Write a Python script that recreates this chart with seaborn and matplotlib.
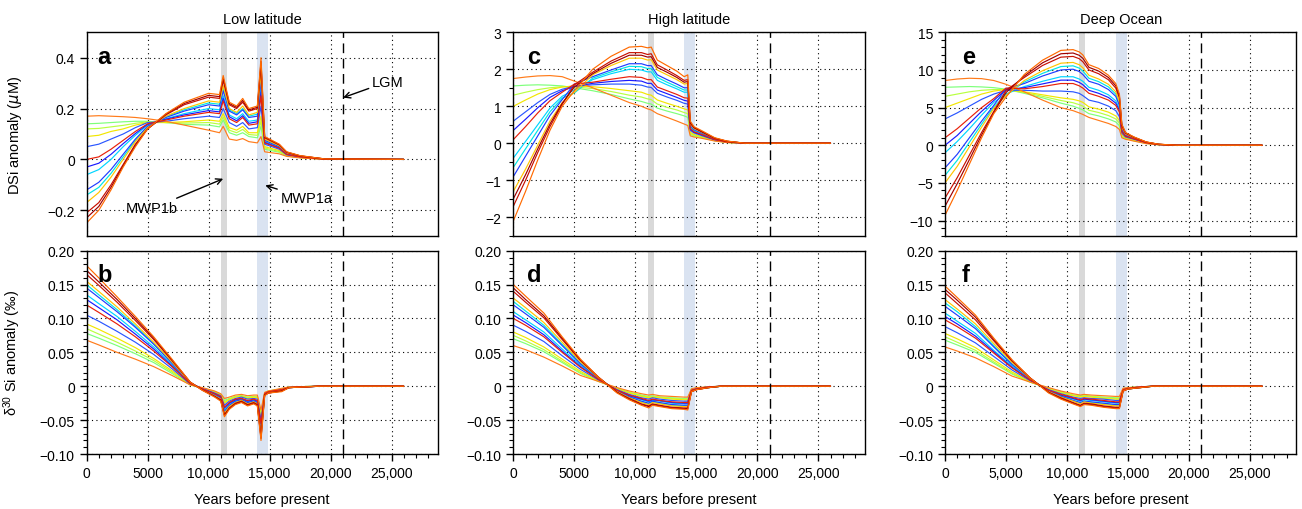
import pandas as pd
import seaborn as sns
import matplotlib.pyplot as plt
from matplotlib.ticker import MultipleLocator, FixedLocator

# ---- data (years before present) ----
YEARS_A = [0, 1000, 2000, 3000, 4000, 5000, 6500, 8000, 10000, 10900, 11200, 11700,
           12300, 12800, 13300, 14000, 14300, 14600, 15800, 16400, 17500, 19500, 26000]
DSI_LOW = [
    [-0.25, -0.20, -0.12, -0.03, 0.05, 0.12, 0.18, 0.225, 0.26, 0.255, 0.33, 0.225, 0.21, 0.24, 0.20, 0.21, 0.40, 0.09, 0.06, 0.03, 0.015, 0.002, 0],
    [-0.21, -0.17, -0.10, -0.02, 0.06, 0.12, 0.175, 0.215, 0.245, 0.24, 0.31, 0.215, 0.20, 0.225, 0.19, 0.20, 0.37, 0.085, 0.057, 0.028, 0.014, 0.002, 0],
    [-0.17, -0.13, -0.07, 0.00, 0.07, 0.125, 0.17, 0.20, 0.23, 0.225, 0.29, 0.20, 0.185, 0.21, 0.175, 0.185, 0.34, 0.08, 0.054, 0.026, 0.013, 0.002, 0],
    [-0.12, -0.09, -0.04, 0.02, 0.08, 0.13, 0.165, 0.19, 0.215, 0.21, 0.27, 0.19, 0.175, 0.195, 0.165, 0.17, 0.31, 0.075, 0.05, 0.024, 0.012, 0.001, 0],
    [-0.06, -0.04, 0.00, 0.05, 0.095, 0.135, 0.16, 0.18, 0.20, 0.195, 0.25, 0.175, 0.16, 0.18, 0.15, 0.155, 0.28, 0.07, 0.047, 0.022, 0.011, 0.001, 0],
    [0.00, 0.01, 0.04, 0.075, 0.11, 0.14, 0.155, 0.17, 0.185, 0.18, 0.23, 0.16, 0.145, 0.165, 0.135, 0.14, 0.25, 0.065, 0.044, 0.02, 0.01, 0.001, 0],
    [0.05, 0.06, 0.08, 0.10, 0.125, 0.145, 0.15, 0.16, 0.17, 0.165, 0.20, 0.145, 0.13, 0.145, 0.12, 0.125, 0.21, 0.06, 0.04, 0.018, 0.009, 0.001, 0],
    [0.09, 0.095, 0.11, 0.12, 0.135, 0.145, 0.145, 0.148, 0.155, 0.15, 0.18, 0.125, 0.115, 0.13, 0.105, 0.105, 0.17, 0.05, 0.035, 0.016, 0.008, 0.001, 0],
    [0.14, 0.142, 0.145, 0.148, 0.15, 0.15, 0.145, 0.138, 0.135, 0.128, 0.155, 0.105, 0.095, 0.105, 0.09, 0.085, 0.13, 0.04, 0.028, 0.014, 0.007, 0.001, 0],
    [0.17, 0.172, 0.17, 0.168, 0.165, 0.16, 0.15, 0.135, 0.115, 0.105, 0.13, 0.08, 0.075, 0.082, 0.07, 0.065, 0.09, 0.03, 0.022, 0.012, 0.006, 0.0, 0],
    [-0.23, -0.185, -0.11, -0.025, 0.055, 0.12, 0.178, 0.22, 0.252, 0.247, 0.32, 0.22, 0.205, 0.232, 0.195, 0.205, 0.385, 0.088, 0.058, 0.029, 0.014, 0.002, 0],
    [-0.14, -0.11, -0.055, 0.01, 0.075, 0.128, 0.168, 0.195, 0.222, 0.217, 0.28, 0.195, 0.18, 0.20, 0.17, 0.178, 0.325, 0.078, 0.052, 0.025, 0.012, 0.001, 0],
    [-0.03, -0.015, 0.02, 0.062, 0.102, 0.138, 0.158, 0.175, 0.192, 0.187, 0.24, 0.168, 0.152, 0.172, 0.142, 0.148, 0.265, 0.067, 0.045, 0.021, 0.01, 0.001, 0],
    [0.12, 0.122, 0.128, 0.134, 0.142, 0.148, 0.145, 0.143, 0.145, 0.139, 0.167, 0.115, 0.105, 0.118, 0.098, 0.095, 0.15, 0.045, 0.031, 0.015, 0.0075, 0.001, 0],
]

YEARS_B = [0, 1000, 2500, 4000, 5500, 7000, 8500, 9500, 10500, 11000, 11300, 11700,
           12200, 12700, 13200, 13700, 14000, 14300, 14600, 14900, 16000, 16600, 19000, 26000]
D30_LOW = [
    [0.178, 0.160, 0.132, 0.103, 0.073, 0.040, 0.006, -0.006, -0.016, -0.022, -0.045, -0.034, -0.027, -0.024, -0.029, -0.026, -0.029, -0.080, -0.014, -0.010, -0.008, -0.002, 0.0, 0.0],
    [0.165, 0.149, 0.124, 0.097, 0.069, 0.038, 0.006, -0.005, -0.015, -0.020, -0.042, -0.032, -0.025, -0.022, -0.027, -0.024, -0.027, -0.075, -0.013, -0.010, -0.007, -0.002, 0.0, 0.0],
    [0.155, 0.140, 0.117, 0.092, 0.065, 0.036, 0.005, -0.005, -0.014, -0.019, -0.040, -0.030, -0.024, -0.021, -0.026, -0.023, -0.026, -0.070, -0.013, -0.009, -0.006, -0.002, 0.0, 0.0],
    [0.145, 0.131, 0.110, 0.087, 0.062, 0.034, 0.005, -0.004, -0.013, -0.018, -0.037, -0.028, -0.022, -0.020, -0.024, -0.022, -0.024, -0.065, -0.012, -0.009, -0.006, -0.002, 0.0, 0.0],
    [0.135, 0.122, 0.103, 0.081, 0.058, 0.032, 0.004, -0.004, -0.012, -0.017, -0.034, -0.026, -0.021, -0.019, -0.023, -0.021, -0.023, -0.060, -0.012, -0.009, -0.006, -0.002, 0.0, 0.0],
    [0.120, 0.109, 0.092, 0.073, 0.052, 0.029, 0.004, -0.004, -0.011, -0.015, -0.031, -0.024, -0.019, -0.018, -0.021, -0.019, -0.021, -0.055, -0.011, -0.008, -0.005, -0.002, 0.0, 0.0],
    [0.105, 0.096, 0.081, 0.065, 0.047, 0.026, 0.003, -0.003, -0.010, -0.014, -0.028, -0.022, -0.018, -0.016, -0.019, -0.018, -0.019, -0.050, -0.011, -0.008, -0.005, -0.001, 0.0, 0.0],
    [0.092, 0.084, 0.071, 0.057, 0.041, 0.023, 0.003, -0.003, -0.009, -0.013, -0.025, -0.020, -0.016, -0.015, -0.018, -0.016, -0.017, -0.045, -0.010, -0.008, -0.004, -0.001, 0.0, 0.0],
    [0.078, 0.071, 0.060, 0.048, 0.035, 0.019, 0.002, -0.003, -0.008, -0.012, -0.021, -0.018, -0.015, -0.014, -0.016, -0.015, -0.015, -0.040, -0.010, -0.007, -0.004, -0.001, 0.0, 0.0],
    [0.068, 0.061, 0.050, 0.040, 0.029, 0.016, 0.002, -0.002, -0.007, -0.011, -0.018, -0.016, -0.013, -0.012, -0.014, -0.013, -0.013, -0.035, -0.009, -0.007, -0.003, -0.001, 0.0, 0.0],
    [0.171, 0.154, 0.128, 0.100, 0.071, 0.039, 0.006, -0.006, -0.015, -0.021, -0.043, -0.033, -0.026, -0.023, -0.028, -0.025, -0.028, -0.077, -0.013, -0.010, -0.007, -0.002, 0.0, 0.0],
    [0.150, 0.135, 0.113, 0.089, 0.063, 0.035, 0.005, -0.004, -0.013, -0.018, -0.038, -0.029, -0.023, -0.020, -0.025, -0.022, -0.025, -0.067, -0.012, -0.009, -0.006, -0.002, 0.0, 0.0],
    [0.128, 0.116, 0.098, 0.077, 0.055, 0.030, 0.004, -0.004, -0.011, -0.016, -0.032, -0.025, -0.020, -0.018, -0.022, -0.020, -0.022, -0.057, -0.011, -0.008, -0.005, -0.002, 0.0, 0.0],
    [0.085, 0.077, 0.065, 0.052, 0.038, 0.021, 0.002, -0.003, -0.008, -0.012, -0.023, -0.019, -0.015, -0.014, -0.017, -0.015, -0.016, -0.042, -0.010, -0.007, -0.004, -0.001, 0.0, 0.0],
]

YEARS_C = [0, 1000, 2000, 3000, 4000, 5000, 6500, 8000, 9500, 10500, 11000, 11300,
           11800, 12600, 13400, 14000, 14300, 14500, 14800, 15500, 16500, 17500, 19000, 26000]
DSI_HIGH = [
    [-2.1, -1.3, -0.45, 0.35, 1.0, 1.42, 2.0, 2.35, 2.6, 2.62, 2.58, 2.6, 2.25, 2.1, 1.95, 1.8, 1.85, 0.6, 0.45, 0.33, 0.15, 0.06, 0.0, 0.0],
    [-1.7, -1.0, -0.25, 0.45, 1.05, 1.58, 1.92, 2.22, 2.45, 2.45, 2.4, 2.42, 2.12, 1.98, 1.83, 1.7, 1.72, 0.57, 0.43, 0.31, 0.14, 0.055, 0.0, 0.0],
    [-1.3, -0.7, -0.05, 0.6, 1.1, 1.38, 1.85, 2.1, 2.3, 2.3, 2.25, 2.26, 1.98, 1.85, 1.72, 1.6, 1.62, 0.52, 0.4, 0.29, 0.13, 0.05, 0.0, 0.0],
    [-0.9, -0.35, 0.2, 0.75, 1.18, 1.6, 1.8, 1.98, 2.15, 2.15, 2.1, 2.1, 1.85, 1.72, 1.6, 1.5, 1.5, 0.48, 0.37, 0.27, 0.12, 0.045, 0.0, 0.0],
    [-0.4, 0.05, 0.5, 0.95, 1.27, 1.44, 1.72, 1.88, 2.0, 1.98, 1.93, 1.93, 1.7, 1.58, 1.47, 1.38, 1.38, 0.44, 0.34, 0.25, 0.11, 0.04, 0.0, 0.0],
    [0.1, 0.45, 0.82, 1.15, 1.38, 1.6, 1.65, 1.73, 1.8, 1.78, 1.72, 1.72, 1.52, 1.42, 1.32, 1.23, 1.22, 0.4, 0.31, 0.23, 0.1, 0.035, 0.0, 0.0],
    [0.6, 0.85, 1.1, 1.32, 1.46, 1.54, 1.58, 1.6, 1.6, 1.57, 1.52, 1.51, 1.35, 1.25, 1.16, 1.08, 1.06, 0.35, 0.28, 0.2, 0.09, 0.03, 0.0, 0.0],
    [1.0, 1.17, 1.33, 1.45, 1.52, 1.55, 1.53, 1.48, 1.42, 1.38, 1.32, 1.3, 1.17, 1.08, 1.0, 0.93, 0.9, 0.3, 0.24, 0.18, 0.08, 0.025, 0.0, 0.0],
    [1.55, 1.57, 1.58, 1.57, 1.55, 1.5, 1.42, 1.32, 1.2, 1.13, 1.08, 1.06, 0.95, 0.87, 0.8, 0.74, 0.7, 0.24, 0.2, 0.15, 0.07, 0.02, 0.0, 0.0],
    [1.75, 1.79, 1.82, 1.83, 1.8, 1.68, 1.5, 1.3, 1.1, 1.0, 0.93, 0.9, 0.8, 0.7, 0.6, 0.52, 0.48, 0.2, 0.17, 0.13, 0.06, 0.02, 0.0, 0.0],
    [-1.5, -0.85, -0.15, 0.52, 1.08, 1.52, 1.88, 2.16, 2.38, 2.38, 2.33, 2.34, 2.05, 1.92, 1.78, 1.65, 1.67, 0.55, 0.42, 0.3, 0.135, 0.052, 0.0, 0.0],
    [-0.65, -0.15, 0.35, 0.85, 1.22, 1.36, 1.76, 1.93, 2.08, 2.07, 2.02, 2.02, 1.78, 1.65, 1.53, 1.44, 1.44, 0.46, 0.35, 0.26, 0.115, 0.042, 0.0, 0.0],
    [0.35, 0.65, 0.96, 1.24, 1.42, 1.53, 1.62, 1.67, 1.7, 1.68, 1.62, 1.62, 1.44, 1.34, 1.24, 1.16, 1.14, 0.38, 0.3, 0.22, 0.095, 0.032, 0.0, 0.0],
    [1.3, 1.38, 1.45, 1.5, 1.53, 1.52, 1.48, 1.4, 1.3, 1.25, 1.2, 1.18, 1.06, 0.97, 0.9, 0.83, 0.8, 0.27, 0.22, 0.16, 0.075, 0.022, 0.0, 0.0],
]

YEARS_D = [0, 1000, 2500, 4000, 5500, 7000, 8500, 9500, 10500, 11100, 11400, 12000,
           13000, 14000, 14300, 14600, 15000, 16000, 17000, 26000]
D30_HIGH = [
    [0.150, 0.133, 0.108, 0.073, 0.040, 0.013, -0.010, -0.020, -0.028, -0.032, -0.028, -0.030, -0.033, -0.034, -0.035, -0.008, -0.005, -0.002, 0.0, 0.0],
    [0.140, 0.124, 0.101, 0.069, 0.038, 0.013, -0.009, -0.018, -0.026, -0.029, -0.026, -0.028, -0.031, -0.032, -0.032, -0.008, -0.005, -0.002, 0.0, 0.0],
    [0.130, 0.116, 0.094, 0.065, 0.036, 0.012, -0.008, -0.017, -0.024, -0.027, -0.024, -0.026, -0.029, -0.030, -0.030, -0.007, -0.005, -0.002, 0.0, 0.0],
    [0.120, 0.107, 0.087, 0.060, 0.033, 0.012, -0.008, -0.016, -0.022, -0.025, -0.022, -0.024, -0.027, -0.028, -0.028, -0.007, -0.004, -0.002, 0.0, 0.0],
    [0.110, 0.098, 0.080, 0.055, 0.031, 0.011, -0.007, -0.015, -0.020, -0.023, -0.021, -0.022, -0.025, -0.026, -0.026, -0.006, -0.004, -0.002, 0.0, 0.0],
    [0.100, 0.090, 0.073, 0.050, 0.028, 0.010, -0.006, -0.013, -0.018, -0.021, -0.019, -0.021, -0.023, -0.024, -0.024, -0.006, -0.004, -0.001, 0.0, 0.0],
    [0.090, 0.081, 0.066, 0.045, 0.025, 0.009, -0.005, -0.012, -0.017, -0.019, -0.017, -0.019, -0.021, -0.022, -0.022, -0.005, -0.003, -0.001, 0.0, 0.0],
    [0.080, 0.072, 0.058, 0.040, 0.022, 0.008, -0.004, -0.010, -0.015, -0.017, -0.016, -0.017, -0.019, -0.020, -0.020, -0.005, -0.003, -0.001, 0.0, 0.0],
    [0.070, 0.063, 0.051, 0.035, 0.019, 0.007, -0.003, -0.009, -0.013, -0.015, -0.014, -0.016, -0.017, -0.018, -0.018, -0.004, -0.003, -0.001, 0.0, 0.0],
    [0.060, 0.054, 0.043, 0.030, 0.016, 0.007, -0.002, -0.007, -0.011, -0.013, -0.012, -0.014, -0.015, -0.016, -0.016, -0.004, -0.002, -0.001, 0.0, 0.0],
    [0.145, 0.128, 0.104, 0.071, 0.039, 0.013, -0.009, -0.019, -0.027, -0.030, -0.027, -0.029, -0.032, -0.033, -0.033, -0.008, -0.005, -0.002, 0.0, 0.0],
    [0.125, 0.111, 0.090, 0.062, 0.034, 0.012, -0.008, -0.016, -0.023, -0.026, -0.023, -0.025, -0.028, -0.029, -0.029, -0.007, -0.004, -0.002, 0.0, 0.0],
    [0.105, 0.094, 0.076, 0.052, 0.029, 0.010, -0.006, -0.014, -0.019, -0.022, -0.020, -0.021, -0.024, -0.025, -0.025, -0.006, -0.004, -0.001, 0.0, 0.0],
    [0.075, 0.067, 0.054, 0.037, 0.020, 0.007, -0.003, -0.009, -0.014, -0.016, -0.015, -0.016, -0.018, -0.019, -0.019, -0.004, -0.003, -0.001, 0.0, 0.0],
]

YEARS_E = YEARS_C
DSI_DEEP = [
    [-9.3, -6.0, -2.5, 1.0, 4.2, 6.4, 9.4, 11.3, 12.6, 12.7, 12.4, 12.0, 10.7, 10.2, 9.3, 8.2, 6.8, 2.8, 1.7, 1.1, 0.45, 0.15, 0.0, 0.0],
    [-7.0, -4.3, -1.3, 1.7, 4.5, 7.3, 9.0, 10.6, 11.7, 11.8, 11.5, 11.1, 10.0, 9.5, 8.7, 7.6, 6.3, 2.6, 1.6, 1.05, 0.42, 0.14, 0.0, 0.0],
    [-5.0, -2.8, -0.2, 2.4, 4.9, 6.6, 8.6, 9.9, 10.9, 11.0, 10.7, 10.3, 9.3, 8.8, 8.1, 7.1, 5.8, 2.4, 1.5, 1.0, 0.4, 0.13, 0.0, 0.0],
    [-3.0, -1.2, 1.0, 3.2, 5.3, 7.5, 8.2, 9.2, 10.0, 10.1, 9.8, 9.4, 8.5, 8.1, 7.4, 6.5, 5.3, 2.2, 1.4, 0.95, 0.38, 0.12, 0.0, 0.0],
    [-1.0, 0.5, 2.2, 4.0, 5.7, 6.8, 7.8, 8.5, 9.1, 9.1, 8.8, 8.5, 7.7, 7.3, 6.7, 5.9, 4.9, 2.0, 1.3, 0.9, 0.36, 0.11, 0.0, 0.0],
    [1.0, 2.2, 3.6, 5.0, 6.2, 7.6, 7.5, 7.8, 8.2, 8.2, 7.9, 7.6, 6.9, 6.5, 6.0, 5.3, 4.4, 1.8, 1.2, 0.85, 0.34, 0.1, 0.0, 0.0],
    [3.5, 4.3, 5.2, 6.1, 6.8, 7.3, 7.3, 7.2, 7.2, 7.1, 6.9, 6.6, 6.0, 5.7, 5.2, 4.6, 3.8, 1.6, 1.1, 0.8, 0.32, 0.1, 0.0, 0.0],
    [5.0, 5.6, 6.2, 6.8, 7.2, 7.4, 7.1, 6.7, 6.3, 6.1, 5.9, 5.7, 5.1, 4.8, 4.4, 3.9, 3.3, 1.4, 1.0, 0.7, 0.3, 0.09, 0.0, 0.0],
    [7.7, 7.75, 7.8, 7.75, 7.65, 7.45, 6.9, 6.3, 5.6, 5.2, 4.9, 4.7, 4.2, 3.9, 3.5, 3.1, 2.6, 1.15, 0.9, 0.6, 0.25, 0.08, 0.0, 0.0],
    [8.6, 8.8, 8.9, 8.85, 8.6, 8.1, 7.1, 6.0, 5.0, 4.6, 4.3, 4.1, 3.7, 3.3, 2.9, 2.5, 2.1, 1.0, 0.8, 0.55, 0.22, 0.07, 0.0, 0.0],
    [-8.1, -5.1, -1.9, 1.35, 4.35, 7.0, 9.2, 10.95, 12.15, 12.25, 11.95, 11.55, 10.35, 9.85, 9.0, 7.9, 6.55, 2.7, 1.65, 1.07, 0.43, 0.14, 0.0, 0.0],
    [-4.0, -2.0, 0.4, 2.8, 5.1, 6.7, 8.4, 9.55, 10.45, 10.55, 10.25, 9.85, 8.9, 8.45, 7.75, 6.8, 5.55, 2.3, 1.45, 0.97, 0.39, 0.12, 0.0, 0.0],
    [0.0, 1.3, 2.9, 4.5, 5.95, 7.4, 7.65, 8.15, 8.65, 8.65, 8.35, 8.05, 7.3, 6.9, 6.35, 5.6, 4.65, 1.9, 1.25, 0.87, 0.35, 0.1, 0.0, 0.0],
    [6.5, 6.8, 7.1, 7.3, 7.4, 7.4, 7.0, 6.5, 5.95, 5.65, 5.4, 5.2, 4.65, 4.35, 3.95, 3.5, 2.95, 1.3, 0.95, 0.65, 0.27, 0.085, 0.0, 0.0],
]

YEARS_F = YEARS_D
D30_DEEP = [
    [0.148, 0.131, 0.105, 0.071, 0.039, 0.012, -0.010, -0.019, -0.026, -0.030, -0.027, -0.028, -0.031, -0.033, -0.033, -0.007, -0.004, -0.002, 0.0, 0.0],
    [0.138, 0.122, 0.098, 0.067, 0.037, 0.012, -0.009, -0.017, -0.024, -0.028, -0.025, -0.026, -0.029, -0.031, -0.031, -0.007, -0.004, -0.002, 0.0, 0.0],
    [0.128, 0.114, 0.092, 0.063, 0.035, 0.011, -0.008, -0.016, -0.022, -0.026, -0.023, -0.025, -0.027, -0.029, -0.029, -0.006, -0.004, -0.002, 0.0, 0.0],
    [0.118, 0.105, 0.085, 0.058, 0.032, 0.011, -0.008, -0.015, -0.021, -0.024, -0.022, -0.023, -0.025, -0.027, -0.027, -0.006, -0.004, -0.002, 0.0, 0.0],
    [0.108, 0.096, 0.078, 0.053, 0.030, 0.010, -0.007, -0.014, -0.019, -0.022, -0.020, -0.021, -0.023, -0.025, -0.025, -0.006, -0.004, -0.001, 0.0, 0.0],
    [0.098, 0.088, 0.071, 0.049, 0.027, 0.009, -0.006, -0.012, -0.017, -0.020, -0.018, -0.019, -0.021, -0.023, -0.023, -0.005, -0.003, -0.001, 0.0, 0.0],
    [0.088, 0.079, 0.064, 0.044, 0.024, 0.008, -0.005, -0.011, -0.016, -0.018, -0.017, -0.018, -0.019, -0.021, -0.021, -0.005, -0.003, -0.001, 0.0, 0.0],
    [0.078, 0.070, 0.057, 0.039, 0.021, 0.007, -0.004, -0.010, -0.014, -0.016, -0.015, -0.016, -0.018, -0.019, -0.019, -0.004, -0.003, -0.001, 0.0, 0.0],
    [0.068, 0.061, 0.050, 0.034, 0.018, 0.006, -0.003, -0.008, -0.013, -0.014, -0.013, -0.015, -0.016, -0.017, -0.017, -0.004, -0.002, -0.001, 0.0, 0.0],
    [0.058, 0.052, 0.042, 0.029, 0.015, 0.006, -0.002, -0.007, -0.011, -0.013, -0.012, -0.013, -0.014, -0.015, -0.015, -0.003, -0.002, -0.001, 0.0, 0.0],
    [0.143, 0.127, 0.102, 0.069, 0.038, 0.012, -0.009, -0.018, -0.025, -0.029, -0.026, -0.027, -0.030, -0.032, -0.032, -0.007, -0.004, -0.002, 0.0, 0.0],
    [0.123, 0.110, 0.088, 0.060, 0.033, 0.011, -0.008, -0.015, -0.021, -0.025, -0.022, -0.024, -0.026, -0.028, -0.028, -0.006, -0.004, -0.002, 0.0, 0.0],
    [0.103, 0.092, 0.074, 0.051, 0.028, 0.009, -0.006, -0.013, -0.018, -0.021, -0.019, -0.020, -0.022, -0.024, -0.024, -0.005, -0.003, -0.001, 0.0, 0.0],
    [0.073, 0.065, 0.053, 0.036, 0.019, 0.006, -0.003, -0.009, -0.013, -0.015, -0.014, -0.015, -0.017, -0.018, -0.018, -0.004, -0.002, -0.001, 0.0, 0.0],
]

RUN_COLOURS = ['#ff6a00', '#c81000', '#ffc400', '#1f3dff', '#00d5ff',
               '#e8200a', '#2a56ff', '#f2e600', '#7dff7a', '#ff7b1a',
               '#a00000', '#00e5e5', '#1a1aff', '#b8ff40']
DRAW_ORDER = [8, 13, 4, 11, 7, 6, 12, 3, 2, 9, 5, 1, 10, 0]

X_TICKS = [0, 5000, 10000, 15000, 20000, 25000]
X_LABELS_BD = ['0', '5000', '10,000', '15,000', '20,000', '25,000']
X_LABELS_F = ['0', '5,000', '10,000', '15,000', '20,000', '25,000']

MWP1B = (11000, 11500)
MWP1A = (14000, 14900)
LGM = 21000


def long_frame(years, runs):
    rows = []
    for i, run in enumerate(runs):
        for x, y in zip(years, run):
            rows.append((x, y, f'run{i + 1:02d}'))
    return pd.DataFrame(rows, columns=['year', 'value', 'run'])


def draw_panel(ax, years, runs, letter, letter_x):
    df = long_frame(years, runs)
    names = [f'run{i + 1:02d}' for i in range(len(runs))]
    pal = dict(zip(names, RUN_COLOURS))
    ax.axvspan(*MWP1B, color='#d9d9d9', lw=0, zorder=0.5)
    ax.axvspan(*MWP1A, color='#dae3f1', lw=0, zorder=0.5)
    sns.lineplot(data=df, x='year', y='value', hue='run',
                 hue_order=[names[i] for i in DRAW_ORDER], palette=pal,
                 estimator=None, legend=False, linewidth=0.85, ax=ax)
    ax.axvline(LGM, color='k', linestyle=(0, (7, 4)), linewidth=1.0, zorder=3)
    ax.set_xlim(0, 28800)
    ax.xaxis.set_major_locator(FixedLocator(X_TICKS))
    ax.xaxis.set_minor_locator(MultipleLocator(1000))
    ax.grid(True, which='major', color='k', linestyle=(0, (1, 3)), linewidth=0.8)
    ax.set_xlabel('')
    ax.set_ylabel('')
    ax.tick_params(which='major', direction='out', length=5, width=1, labelsize=10, colors='k')
    ax.tick_params(which='minor', direction='out', length=3, width=0.8, colors='k')
    for s in ax.spines.values():
        s.set_color('k')
        s.set_linewidth(1.0)
    ax.text(letter_x, 0.85, letter, transform=ax.transAxes, fontsize=17,
            fontweight='bold', va='baseline', ha='left', zorder=5)


def set_y(ax, lo, hi, ticks, labels, minor=None):
    ax.set_ylim(lo, hi)
    ax.yaxis.set_major_locator(FixedLocator(ticks))
    ax.set_yticklabels(labels)
    if minor:
        ax.yaxis.set_minor_locator(MultipleLocator(minor))


sns.set_style("ticks")
plt.rcParams['font.family'] = ['Liberation Sans', 'DejaVu Sans']
plt.rcParams['mathtext.fontset'] = 'dejavusans'
plt.rcParams['text.color'] = 'k'
plt.rcParams['axes.labelcolor'] = 'k'

fig = plt.figure(figsize=(13.02, 5.10), dpi=100)
lefts = [0.0665, 0.3943, 0.7258]
w = 0.2698
ax_a = fig.add_axes([lefts[0], 0.5359, w, 0.3988])
ax_b = fig.add_axes([lefts[0], 0.1078, w, 0.3986])
ax_c = fig.add_axes([lefts[1], 0.5359, w, 0.3988])
ax_d = fig.add_axes([lefts[1], 0.1078, w, 0.3986])
ax_e = fig.add_axes([lefts[2], 0.5359, w, 0.3988])
ax_f = fig.add_axes([lefts[2], 0.1078, w, 0.3986])

draw_panel(ax_a, YEARS_A, DSI_LOW, 'a', 0.03)
draw_panel(ax_b, YEARS_B, D30_LOW, 'b', 0.03)
draw_panel(ax_c, YEARS_C, DSI_HIGH, 'c', 0.04)
draw_panel(ax_d, YEARS_D, D30_HIGH, 'd', 0.04)
draw_panel(ax_e, YEARS_E, DSI_DEEP, 'e', 0.048)
draw_panel(ax_f, YEARS_F, D30_DEEP, 'f', 0.048)

set_y(ax_a, -0.3, 0.5, [-0.2, 0, 0.2, 0.4], ['\u22120.2', '0', '0.2', '0.4'])
set_y(ax_c, -2.5, 3, [-2, -1, 0, 1, 2, 3], ['\u22122', '\u22121', '0', '1', '2', '3'], 0.5)
set_y(ax_e, -12, 15, [-10, -5, 0, 5, 10, 15], ['\u221210', '\u22125', '0', '5', '10', '15'], 1)
d30_ticks = [-0.10, -0.05, 0, 0.05, 0.10, 0.15, 0.20]
d30_labels = ['\u22120.10', '\u22120.05', '0', '0.05', '0.10', '0.15', '0.20']
for ax in (ax_b, ax_d, ax_f):
    set_y(ax, -0.10, 0.20, d30_ticks, d30_labels, 0.01)

for ax in (ax_a, ax_c, ax_e):
    ax.tick_params(axis='x', which='both', bottom=False, labelbottom=False)

for ax, labels in ((ax_b, X_LABELS_BD), (ax_d, X_LABELS_BD), (ax_f, X_LABELS_F)):
    ax.set_xticklabels(labels)
    ax.set_xlabel('Years before present', fontsize=10.5)
    ax.xaxis.set_label_coords(0.5, -0.185)

ax_a.set_title('Low latitude', fontsize=10.5, pad=7)
ax_c.set_title('High latitude', fontsize=10.5, pad=7)
ax_e.set_title('Deep Ocean', fontsize=10.5, pad=7)

ax_a.set_ylabel('DSi anomaly ($\\mu$M)', fontsize=10.5)
ax_a.yaxis.set_label_coords(-0.178, 0.5)
ax_b.set_ylabel('$\\mathregular{\\delta^{30}}$ Si anomaly (\u2030)', fontsize=10.5)
ax_b.yaxis.set_label_coords(-0.18, 0.5)

arrow = dict(arrowstyle='->', color='k', lw=1.0, shrinkA=0, shrinkB=0)
ax_a.annotate('MWP1b', xy=(11200, -0.076), xytext=(7500, -0.193), fontsize=10.5,
              ha='right', va='center', arrowprops=arrow)
ax_a.annotate('MWP1a', xy=(14650, -0.102), xytext=(15900, -0.153), fontsize=10.5,
              ha='left', va='center', arrowprops=arrow)
ax_a.annotate('LGM', xy=(21030, 0.243), xytext=(23400, 0.306), fontsize=10.5,
              ha='left', va='center', arrowprops=arrow)

fig.savefig('out.png', dpi=100)
